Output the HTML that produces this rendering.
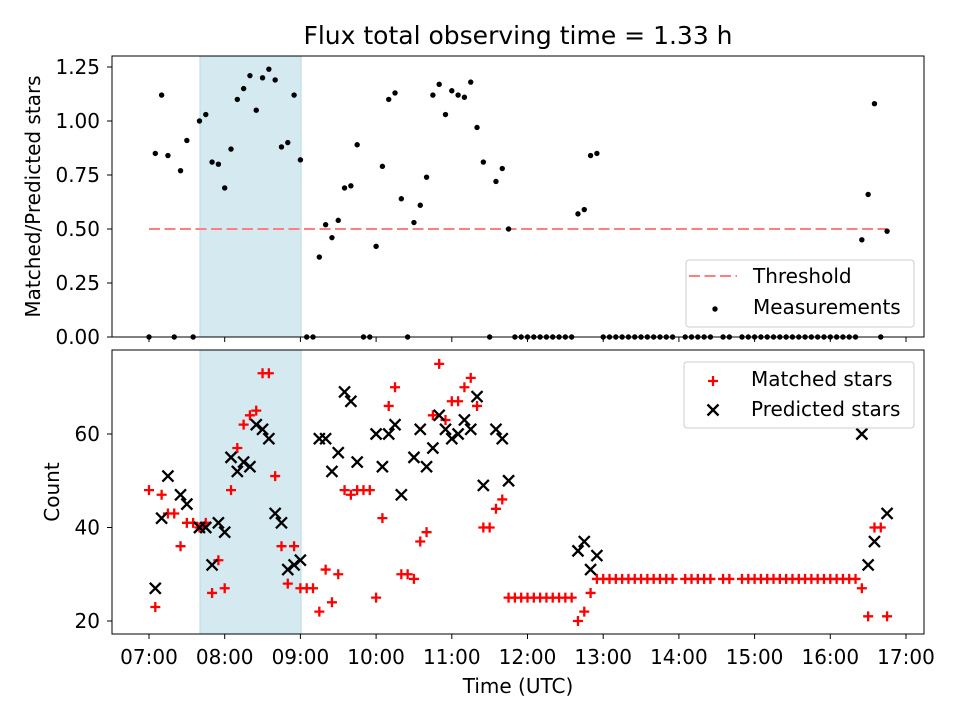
<!DOCTYPE html>
<html><head><meta charset="utf-8"><style>
body{margin:0;background:#fff}
svg{display:block;font-family:"DejaVu Sans","Liberation Sans",sans-serif}
</style></head><body>
<svg id="chart" width="960" height="720" viewBox="0 0 960 720" xmlns="http://www.w3.org/2000/svg">
<rect width="960" height="720" fill="#fff"/>
<text x="518" y="44" font-size="25" text-anchor="middle">Flux total observing time = 1.33 h</text>
<g id="topPanel"></g><g id="botPanel"></g>
</svg>
<script>
const minutes=[0,5,10,15,20,25,30,35,40,45,50,55,60,65,70,75,80,85,90,95,100,105,110,115,120,125,130,135,140,145,150,155,160,165,170,175,180,185,190,195,200,205,210,215,220,225,230,235,240,245,250,255,260,265,270,275,280,285,290,295,300,305,310,315,320,325,330,335,340,345,350,355,360,365,370,375,380,385,390,395,400,405,410,415,420,425,430,435,440,445,450,455,460,465,470,475,480,485,490,495,500,505,510,515,520,525,530,535,540,545,550,555,560,565,570,575,580,585];
const ratio=[0,0.85,1.12,0.84,0,0.77,0.91,0,1.00,1.03,
0.81,0.80,0.69,0.87,1.10,1.15,1.21,1.05,1.20,1.24,
1.19,0.88,0.90,1.12,0.82,0,0,0.37,0.52,0.46,
0.54,0.69,0.70,0.89,0,0,0.42,0.79,1.10,1.13,
0.64,0,0.53,0.61,0.74,1.12,1.17,1.03,1.14,1.12,
1.11,1.18,0.97,0.81,0,0.72,0.78,0.50,0,0,
0,0,0,0,0,0,0,0,0.57,0.59,
0.84,0.85,0,0,0,0,0,0,0,0,
0,0,0,0,null,0,0,0,0,0,
null,0,0,null,0,0,0,0,0,0,
0,0,0,0,0,0,0,0,0,0,
0,0,0,0.45,0.66,1.08,0,0.49];
const matched=[48,23,47,43,43,36,41,41,40,41,
26,33,27,48,57,62,64,65,73,73,
51,36,28,36,27,27,27,22,31,24,
30,48,47,48,48,48,25,42,66,70,
30,30,29,37,39,64,75,63,67,67,
70,72,66,40,40,44,46,25,25,25,
25,25,25,25,25,25,25,25,20,22,
26,29,29,29,29,29,29,29,29,29,
29,29,29,29,null,29,29,29,29,29,
null,29,29,null,29,29,29,29,29,29,
29,29,29,29,29,29,29,29,29,29,
29,29,29,27,21,40,40,21];
const predicted=[null,27,42,51,null,47,45,null,40,40,
32,41,39,55,52,54,53,62,61,59,
43,41,31,32,33,null,null,59,59,52,
56,69,67,54,null,null,60,53,60,62,
47,null,55,61,53,57,64,61,59,60,
63,61,68,49,null,61,59,50,null,null,
null,null,null,null,null,null,null,null,35,37,
31,34,null,null,null,null,null,null,null,null,
null,null,null,null,null,null,null,null,null,null,
null,null,null,null,null,null,null,null,null,null,
null,null,null,null,null,null,null,null,null,null,
null,null,null,60,32,37,null,43];
const threshold=0.5;
const shadeStart=40.4, shadeEnd=120.5;
const xTickLabels=["07:00","08:00","09:00","10:00","11:00","12:00","13:00","14:00","15:00","16:00","17:00"];
const topYTicks=[0,0.25,0.5,0.75,1.0,1.25];
const botYTicks=[20,40,60];

const NS="http://www.w3.org/2000/svg";
const L=112,R=924,FS=20;
const X=m=>149+m*75.7/60;
const yTop=v=>337-v*216;
const yBot=v=>621-(v-20)*4.675;
function mk(p,tag,at){const e=document.createElementNS(NS,tag);for(const k in at)e.setAttribute(k,at[k]);p.appendChild(e);return e;}
const topG=document.getElementById('topPanel'),botG=document.getElementById('botPanel');

function panel(g,y0,y1,yf,ticks,fmt,labelText,showX){
  const sh=mk(g,'rect',{x:X(shadeStart),y:y0,width:X(shadeEnd)-X(shadeStart),height:y1-y0,fill:'#d4e9f0',stroke:'#b5dbe8','stroke-width':1});
  
  
  ticks.forEach(t=>{const y=yf(t);mk(g,'line',{x1:L-5,x2:L,y1:y,y2:y,stroke:'#000','stroke-width':1});
    const tx=mk(g,'text',{x:L-12,y:y+7,'font-size':FS,'text-anchor':'end'});tx.textContent=fmt(t);
    
    });
  xTickLabels.forEach((s,i)=>{const x=X(i*60);mk(g,'line',{x1:x,x2:x,y1:y1,y2:y1+5,stroke:'#000','stroke-width':1});
    if(showX){const tx=mk(g,'text',{x:x,y:y1+30,'font-size':FS,'text-anchor':'middle'});tx.textContent=s;
    
    }});
  const yl=mk(g,'text',{x:0,y:0,'font-size':FS,'text-anchor':'middle',transform:`translate(${showX?59:40},${(y0+y1)/2}) rotate(-90)`});yl.textContent=labelText;
  
  
}
panel(topG,56,337,yTop,topYTicks,v=>v.toFixed(2),'Matched/Predicted stars',false);
panel(botG,350,634,yBot,botYTicks,v=>String(v),'Count',true);

const th=mk(topG,'line',{x1:X(minutes[0]),x2:X(minutes[minutes.length-1]),y1:yTop(threshold),y2:yTop(threshold),stroke:'#ff7f7f','stroke-width':2,'stroke-dasharray':'11,4.5'});


ratio.forEach((v,i)=>{if(v===null)return;const c=mk(topG,'circle',{cx:X(minutes[i]),cy:yTop(v),r:2.7,fill:'#000'});
  
  });
matched.forEach((v,i)=>{if(v===null)return;const x=X(minutes[i]),y=yBot(v);
  const p=mk(botG,'path',{d:`M${x-5},${y}H${x+5}M${x},${y-5}V${y+5}`,stroke:'#f00','stroke-width':2.3});
  
  });
predicted.forEach((v,i)=>{if(v===null)return;const x=X(minutes[i]),y=yBot(v);
  const p=mk(botG,'path',{d:`M${x-5.5},${y-5.5}L${x+5.5},${y+5.5}M${x-5.5},${y+5.5}L${x+5.5},${y-5.5}`,stroke:'#000','stroke-width':2.3});
  
  });

const f1=mk(topG,'rect',{x:L,y:56,width:R-L,height:281,fill:'none',stroke:'#000','stroke-width':1});


const f2=mk(botG,'rect',{x:L,y:350,width:R-L,height:284,fill:'none',stroke:'#000','stroke-width':1});


const xl=mk(botG,'text',{x:518,y:693,'font-size':FS,'text-anchor':'middle'});xl.textContent='Time (UTC)';



const lg1=mk(topG,'g',{});


mk(lg1,'rect',{x:686,y:260,width:228,height:67,rx:3,fill:'#fff','fill-opacity':0.8,stroke:'#ccc'});
mk(lg1,'line',{x1:689,x2:737,y1:276,y2:276,stroke:'#ff7f7f','stroke-width':2,'stroke-dasharray':'11,4.5'});
let t=mk(lg1,'text',{x:753,y:283,'font-size':FS});t.textContent='Threshold';
mk(lg1,'circle',{cx:715,cy:309,r:2.7,fill:'#000'});
t=mk(lg1,'text',{x:753,y:314,'font-size':FS});t.textContent='Measurements';
const lg2=mk(botG,'g',{});


mk(lg2,'rect',{x:684,y:362,width:230,height:66,rx:3,fill:'#fff','fill-opacity':0.8,stroke:'#ccc'});
mk(lg2,'path',{d:'M708,381H718M713,376V386',stroke:'#f00','stroke-width':2.3});
t=mk(lg2,'text',{x:751,y:386,'font-size':FS});t.textContent='Matched stars';
mk(lg2,'path',{d:'M707.5,404.5L718.5,415.5M707.5,415.5L718.5,404.5',stroke:'#000','stroke-width':2.3});
t=mk(lg2,'text',{x:751,y:416,'font-size':FS});t.textContent='Predicted stars';
</script>
</body></html>
